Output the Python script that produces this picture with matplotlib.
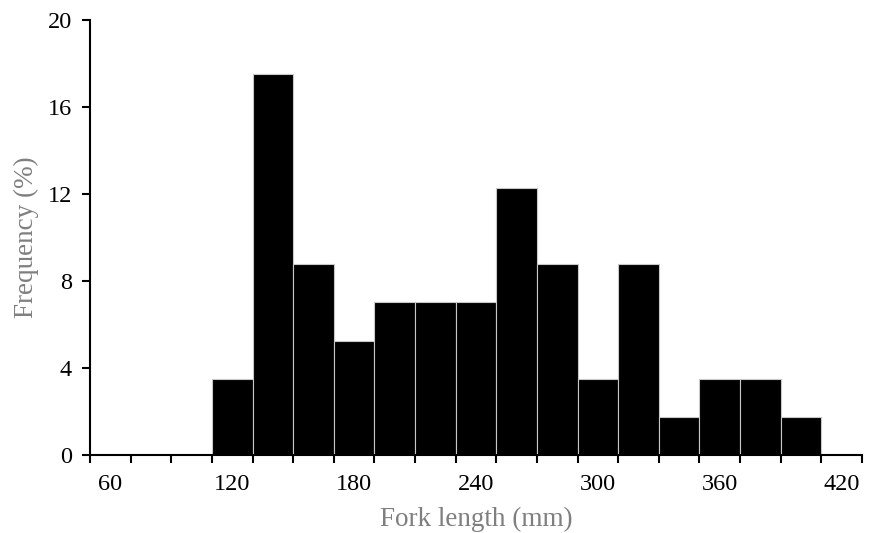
import numpy as np
import matplotlib.pyplot as plt

plt.rcParams['font.family'] = ['Liberation Serif', 'DejaVu Serif']

# bin centres (mm) and frequency (%)
bin_centers = [60, 80, 100, 120, 140, 160, 180, 200, 220, 240, 260, 280, 300,
               320, 340, 360, 380, 400, 420]
freq = [0, 0, 0, 3.51, 17.54, 8.77, 5.26, 7.02, 7.02, 7.02, 12.28, 8.77, 3.51,
        8.77, 1.75, 3.51, 3.51, 1.75, 0]
tick_labels = [60, 120, 180, 240, 300, 360, 420]

fig = plt.figure(figsize=(8.94, 5.33), dpi=100)
ax = fig.add_axes([90 / 894, 1 - 455 / 533, (862 - 90) / 894, (455 - 20) / 533])

ax.bar(bin_centers, freq, width=20, color='black', edgecolor='#c8c8c8', linewidth=0.8)

ax.set_xlim(50, 430)
ax.set_ylim(0, 20)
ax.set_yticks(np.arange(0, 21, 4))
ax.set_xticks(tick_labels)
ax.set_xticks(np.arange(50, 431, 20), minor=True)
ax.tick_params(axis='x', which='major', length=0, labelsize=17.5, pad=13.5)
ax.tick_params(axis='x', which='minor', length=6, width=1.5, direction='out')
ax.tick_params(axis='y', length=6, width=1.5, labelsize=17.5, pad=7, direction='out')

for s in ['top', 'right']:
    ax.spines[s].set_visible(False)
for s in ['left', 'bottom']:
    ax.spines[s].set_linewidth(1.5)

ax.set_xlabel('Fork length (mm)', fontsize=19.5, color='#7f7f7f', labelpad=9)
ax.set_ylabel('Frequency (%)', fontsize=19.5, color='#7f7f7f', labelpad=6)

fig.savefig('out.png', dpi=100)
